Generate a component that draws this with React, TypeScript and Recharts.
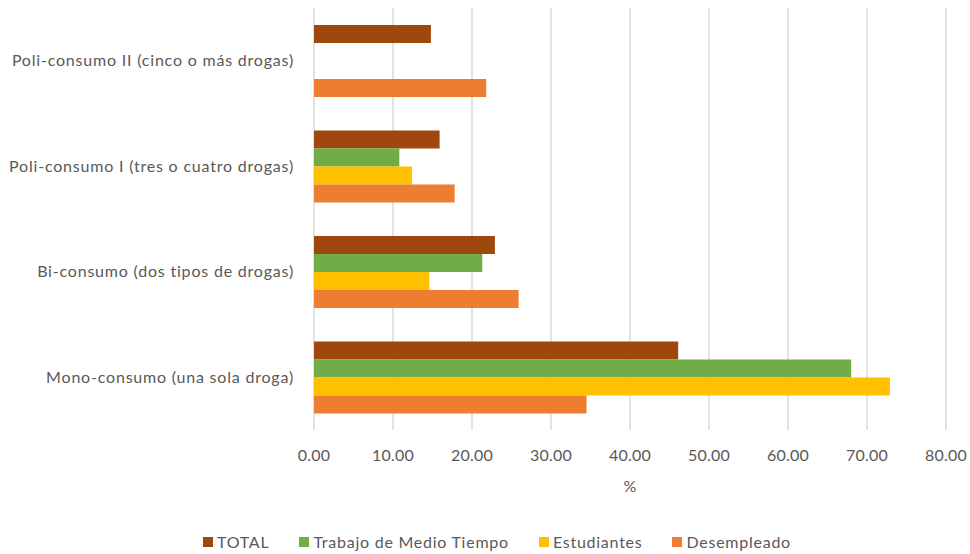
import React from 'react';
import { BarChart, Bar, XAxis, YAxis, CartesianGrid, Legend } from 'recharts';

const categories = [
  'Poli-consumo II (cinco o más drogas)',
  'Poli-consumo I (tres o cuatro drogas)',
  'Bi-consumo (dos tipos de drogas)',
  'Mono-consumo (una sola droga)',
];
const total = [14.8, 15.9, 22.9, 46.1];
const medioTiempo = [null, 10.8, 21.3, 68.0];
const estudiantes = [null, 12.4, 14.6, 72.9];
const desempleado = [21.8, 17.8, 25.9, 34.5];
const xTicks = [0, 10, 20, 30, 40, 50, 60, 70, 80];

const series = [
  { key: 'total', name: 'TOTAL', color: '#9E480E' },
  { key: 'medio', name: 'Trabajo de Medio Tiempo', color: '#70AD47' },
  { key: 'estud', name: 'Estudiantes', color: '#FFC000' },
  { key: 'desem', name: 'Desempleado', color: '#ED7D31' },
];

const data = categories.map((name, i) => ({
  name,
  total: total[i],
  medio: medioTiempo[i],
  estud: estudiantes[i],
  desem: desempleado[i],
}));

const font = 'Lato, "Open Sans", sans-serif';
const textColor = '#595959';

function LegendContent() {
  return (
    <div style={{ display: 'flex', justifyContent: 'center', gap: 30, fontFamily: font, fontSize: 16, letterSpacing: 0.75, color: textColor, paddingTop: 32, paddingLeft: 48 }}>
      {series.map((s) => (
        <div key={s.key} style={{ display: 'flex', alignItems: 'center', gap: 4 }}>
          <span style={{ width: 10, height: 10, background: s.color, display: 'inline-block' }} />
          <span>{s.name}</span>
        </div>
      ))}
    </div>
  );
}

export default function App() {
  return (
    <div style={{ position: 'absolute', left: 0, top: 0, width: 970, height: 554, background: '#fff' }}>
      <BarChart
        width={970}
        height={554}
        data={data}
        layout="vertical"
        margin={{ top: 8, right: 24, left: 0, bottom: 0 }}
        barCategoryGap={17}
        barGap={0}
      >
        <CartesianGrid horizontal={false} stroke="#D9D9D9" strokeWidth={1.5} />
        <XAxis
          type="number"
          domain={[0, 80]}
          ticks={xTicks}
          tickFormatter={(v) => Number(v).toFixed(2)}
          axisLine={false}
          tickLine={false}
          tick={{ fill: textColor, fontSize: 16, fontFamily: font, letterSpacing: 0.2 }}
          tickMargin={14}
          height={70}
          label={{ value: '%', position: 'insideBottom', offset: 8, fill: textColor, fontSize: 16, fontFamily: font }}
        />
        <YAxis
          type="category"
          dataKey="name"
          width={314}
          axisLine={false}
          tickLine={false}
          tick={{ fill: textColor, fontSize: 16, fontFamily: font, letterSpacing: 0.8 }}
          tickMargin={14}
        />
        <Legend verticalAlign="bottom" height={54} content={<LegendContent />} />
        {series.map((s) => (
          <Bar key={s.key} dataKey={s.key} name={s.name} fill={s.color} isAnimationActive={false} />
        ))}
      </BarChart>
    </div>
  );
}
